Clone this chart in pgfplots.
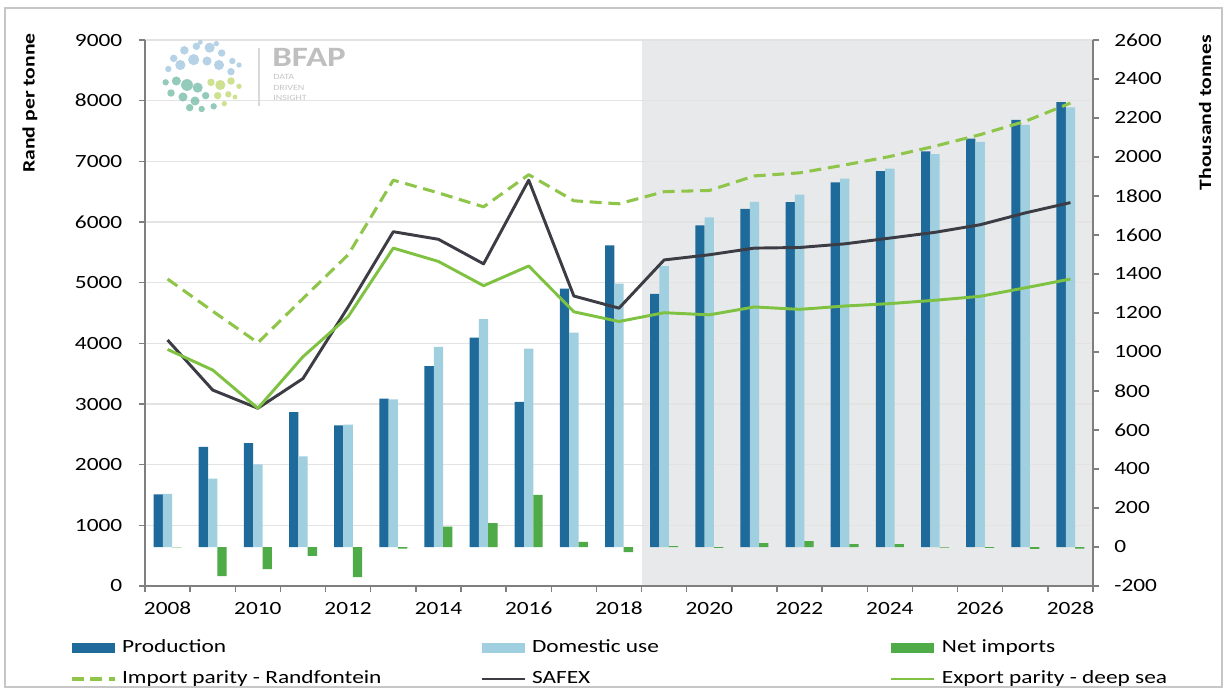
\documentclass[border=0pt]{standalone}
\usepackage{pgfplots}
\pgfplotsset{compat=1.18}
\usepackage{fontspec}
\setmainfont{Carlito}[FakeStretch=1.25]

\definecolor{prod}{HTML}{1D6A9B}
\definecolor{domu}{HTML}{A0D0DF}
\definecolor{netimp}{HTML}{4FAA48}
\definecolor{imppar}{HTML}{8FC64A}
\definecolor{safex}{HTML}{3C3C44}
\definecolor{exppar}{HTML}{7FC241}
\definecolor{projgray}{HTML}{E8E9EB}
\definecolor{axcol}{HTML}{7F7F7F}
\definecolor{logoblue}{HTML}{9DC3DE}
\definecolor{logoteal}{HTML}{6FB9A4}
\definecolor{logolime}{HTML}{C2DA76}

% 1 px of the reference = 0.75pt
\pgfplotsset{
  frame/.style={
    at={(108.75pt,78pt)}, anchor=south west,
    scale only axis, width=711pt, height=409.5pt,
    xmin=-0.5, xmax=20.5,
    /pgf/number format/assume math mode=true,
    /pgf/number format/1000 sep={},
    scaled y ticks=false,
    tick label style={font=\fontsize{14}{16}\selectfont},
    axis line style={axcol, line width=1.1pt},
    tick style={axcol, line width=1pt},
  },
  left scale/.style={ymin=0, ymax=9000},
  bar img/.style={draw=none,
    legend image code/.code={\fill[##1] (0pt,-3.4pt) rectangle (32.25pt,3.4pt);}},
}

\begin{document}
\begin{tikzpicture}
\useasboundingbox (0,0) rectangle (919.5pt,517.5pt);
\fill[white] (0,0) rectangle (919.5pt,517.5pt);

% projection period shading
\begin{axis}[frame, left scale, hide axis]
\fill[projgray] (axis cs:10.5,0) rectangle (axis cs:20.5,9000);
\end{axis}

% left axis (Rand per tonne) and grid
\begin{axis}[frame, left scale,
  axis x line*=bottom, axis y line*=left,
  tick align=outside, major tick length=4.5pt,
  xtick={-0.5,0.5,...,20.5},
  xticklabels={2008,,2010,,2012,,2014,,2016,,2018,,2020,,2022,,2024,,2026,,2028,},
  xticklabel style={xshift=16.93pt, yshift=-4pt},
  ytick={0,1000,...,9000},
  yticklabel style={xshift=-9pt},
  ymajorgrids, grid style={gray!22, line width=0.8pt},
]
\end{axis}

% bars on right axis (thousand tonnes)
\begin{axis}[frame, ymin=-200, ymax=2600,
  axis y line*=right, axis x line=none,
  tick align=outside, major tick length=4.5pt,
  ytick={-200,0,...,2600},
  yticklabel style={xshift=8pt},
  ybar=0pt, bar width=7pt,
]
% Production
\addplot[fill=prod, draw=none] coordinates {
  (0,270) (1,513) (2,533) (3,692) (4,624) (5,761) (6,927) (7,1074)
  (8,744) (9,1325) (10,1547) (11,1298) (12,1650) (13,1734) (14,1768)
  (15,1870) (16,1927) (17,2029) (18,2094) (19,2191) (20,2281)
};
% Domestic use
\addplot[fill=domu, draw=none] coordinates {
  (0,272) (1,351) (2,424) (3,465) (4,627) (5,757) (6,1026) (7,1168)
  (8,1017) (9,1100) (10,1351) (11,1440) (12,1690) (13,1770) (14,1807)
  (15,1889) (16,1940) (17,2015) (18,2077) (19,2165) (20,2254)
};
% Net imports
\addplot[fill=netimp, draw=none] coordinates {
  (0,-2) (1,-149) (2,-114) (3,-46) (4,-154) (5,-8) (6,105) (7,123)
  (8,267) (9,26) (10,-26) (11,5) (12,-5) (13,20) (14,30)
  (15,15) (16,15) (17,-3) (18,-5) (19,-10) (20,-8)
};
\end{axis}

% price lines on left axis
\begin{axis}[frame, left scale, hide axis,
  legend columns=3, legend cell align=left,
  legend style={at={(-0.0791,-0.097)}, anchor=north west,
    draw=none, fill=none, inner sep=0pt, outer sep=0pt, row sep=9.75pt,
    font=\fontsize{14}{16}\selectfont,
    nodes={inner sep=0pt, text height=10pt, text depth=3.5pt},
    /tikz/every odd column/.append style={column sep=4.5pt}},
  legend image code/.code={\draw[#1] (0pt,0pt) -- (32.25pt,0pt);},
]
\addlegendimage{bar img, fill=prod}
\addlegendentry{\makebox[268.5pt][l]{Production}}
\addlegendimage{bar img, fill=domu}
\addlegendentry{\makebox[268.5pt][l]{Domestic use}}
\addlegendimage{bar img, fill=netimp}
\addlegendentry{\makebox[268.5pt][l]{Net imports}}

% Import parity - Randfontein
\addplot[imppar, line width=2.3pt, line join=round, dash pattern=on 9pt off 5pt] coordinates {
  (0,5060) (1,4530) (2,4010) (3,4740) (4,5460) (5,6690) (6,6480) (7,6250)
  (8,6780) (9,6350) (10,6300) (11,6500) (12,6520) (13,6760) (14,6810)
  (15,6940) (16,7080) (17,7250) (18,7440) (19,7660) (20,7960)
};
\addlegendentry{\makebox[268.5pt][l]{Import parity - Randfontein}}
% SAFEX
\addplot[safex, line width=2.2pt, line join=round] coordinates {
  (0,4055) (1,3230) (2,2930) (3,3420) (4,4600) (5,5840) (6,5715) (7,5310)
  (8,6690) (9,4780) (10,4580) (11,5375) (12,5460) (13,5570) (14,5580)
  (15,5640) (16,5735) (17,5830) (18,5955) (19,6150) (20,6320)
};
\addlegendentry{\makebox[268.5pt][l]{SAFEX}}
% Export parity - deep sea
\addplot[exppar, line width=2.2pt, line join=round] coordinates {
  (0,3900) (1,3560) (2,2930) (3,3780) (4,4440) (5,5570) (6,5350) (7,4950)
  (8,5275) (9,4520) (10,4360) (11,4505) (12,4470) (13,4600) (14,4560)
  (15,4615) (16,4655) (17,4710) (18,4775) (19,4915) (20,5060)
};
\addlegendentry{\makebox[268.5pt][l]{Export parity - deep sea}}
\end{axis}

% axis titles
\node[rotate=90, anchor=east, inner sep=0pt, font=\bfseries\fontsize{13}{15}\selectfont]
  at (22.5pt,492.75pt) {Rand per tonne};
\node[rotate=90, anchor=east, inner sep=0pt, font=\bfseries\fontsize{13}{15}\selectfont]
  at (903.75pt,491.25pt) {Thousand tonnes};

% BFAP logo
\begin{scope}[shift={(152.25pt,459.75pt)}, x=1pt, y=1pt]
  \foreach \x/\y/\r in {-22/14/2.8,-14/20/3.2,-5/23/2.8,5/22/3.8,14/18/2.8,22/12/2.4,
      -26/6/2.4,-17/9/3.8,-7/13/4.2,3/12/3.4,12/9/3.8,21/4/2.8,27/9/2,-2/26/1.8,10/25/2}
    \fill[logoblue, opacity=0.75] (\x,\y) circle (\r);
  \foreach \x/\y/\r in {-28/-4/2.4,-20/-3/3.4,-12/-6/4.4,-4/-8/3.8,-24/-12/2.8,-15/-15/3.4,
      -6/-18/3.4,2/-14/2.8,-10/-23/2.8,-1/-24/2.4,8/-22/2.4}
    \fill[logoteal, opacity=0.75] (\x,\y) circle (\r);
  \foreach \x/\y/\r in {6/-4/2.8,13/-6/3.8,21/-3/2.8,27/-7/2,11/-14/2.8,19/-13/2.4,
      16/-20/2,24/-15/1.8}
    \fill[logolime, opacity=0.8] (\x,\y) circle (\r);
\end{scope}
\draw[gray!30, line width=0.8pt] (194.25pt,438pt) -- (194.25pt,481.5pt);
\node[anchor=base west, inner sep=0pt, text=gray!50, font=\bfseries\fontsize{21}{22}\selectfont]
  at (204pt,467.25pt) {BFAP};
\node[anchor=base west, inner sep=0pt, text=gray!45, font=\fontsize{6}{7}\selectfont]
  at (204.75pt,457.5pt) {DATA};
\node[anchor=base west, inner sep=0pt, text=gray!45, font=\fontsize{6}{7}\selectfont]
  at (204.75pt,449.25pt) {DRIVEN};
\node[anchor=base west, inner sep=0pt, text=gray!45, font=\fontsize{6}{7}\selectfont]
  at (204.75pt,441.75pt) {INSIGHT};

% outer frame
\draw[gray!45, line width=1.2pt] (3.75pt,2.25pt) rectangle (916.5pt,511.5pt);
\end{tikzpicture}
\end{document}
